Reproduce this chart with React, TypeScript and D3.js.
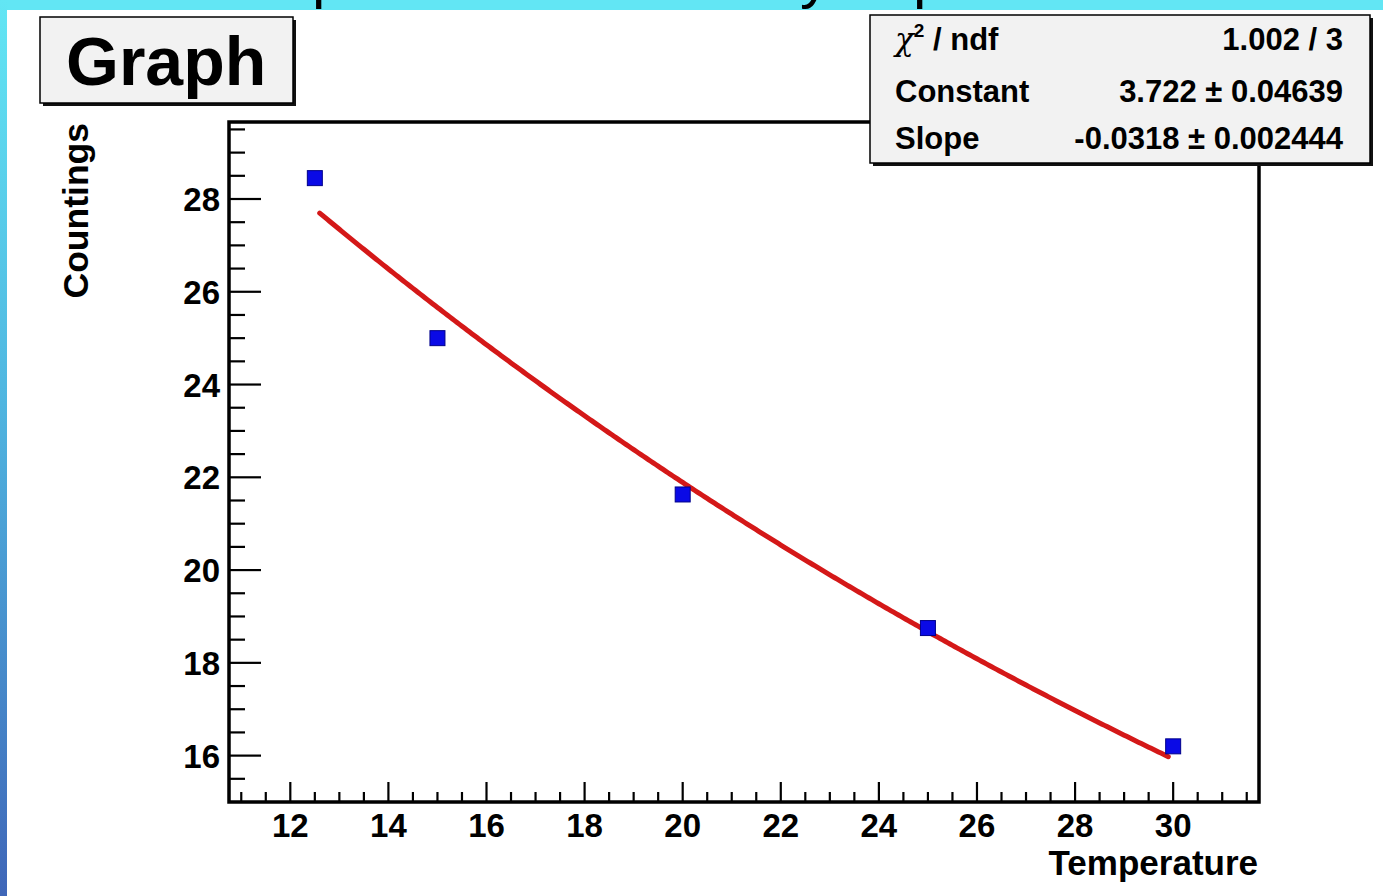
import React, { useEffect } from 'react';
import * as d3 from 'd3';

// Measured points
const temperatures = [12.5, 15, 20, 25, 30];
const countings = [28.45, 25.0, 21.63, 18.75, 16.2];

// Exponential fit: exp(constant + slope * x)
const fitConstant = 3.722;
const fitSlope = -0.0318;
const fitRange = [12.6, 29.9];

const xMajorTicks = [12, 14, 16, 18, 20, 22, 24, 26, 28, 30];
const yMajorTicks = [16, 18, 20, 22, 24, 26, 28];

const statsNames = ['Constant', 'Slope'];
const statsValues = ['3.722 \u00b1 0.04639', '-0.0318 \u00b1 0.002444'];
const chi2Value = '1.002 / 3';

const FONT = '"Liberation Sans", Arial, Helvetica, sans-serif';

export default function App() {
  useEffect(() => {
    document.body.style.margin = '0';
    document.body.style.overflow = 'hidden';
  }, []);

  const W = 1383;
  const H = 896;
  const frame = { left: 229, right: 1259, top: 122, bottom: 802 };

  const x = d3.scaleLinear().domain([10.75, 31.75]).range([frame.left, frame.right]);
  const y = d3.scaleLinear().domain([15.0, 29.66]).range([frame.bottom, frame.top]);

  const xMinor = d3.range(11, 31.75, 0.5).filter((v) => !xMajorTicks.includes(v));
  const yMinor = d3.range(15.5, 29.66, 0.5).filter((v) => !yMajorTicks.includes(v));

  const fitPts = d3
    .range(fitRange[0], fitRange[1] + 1e-9, 0.05)
    .map((t) => [t, Math.exp(fitConstant + fitSlope * t)] as [number, number]);
  const fitLine = d3
    .line<[number, number]>()
    .x((d) => x(d[0]))
    .y((d) => y(d[1]));

  const titleBox = { x: 40, y: 17, w: 253, h: 86 };
  const statsBox = { x: 870, y: 15, w: 500, h: 148 };

  return (
    <svg width={W} height={H} style={{ position: 'absolute', left: 0, top: 0, display: 'block' }}>
      <defs>
        <linearGradient id="edgeGrad" x1="0" y1="0" x2="0" y2="1">
          <stop offset="0" stopColor="#62e6f4" />
          <stop offset="0.45" stopColor="#4fb5e0" />
          <stop offset="1" stopColor="#3f66b8" />
        </linearGradient>
        <clipPath id="bandClip">
          <rect x={0} y={0} width={W} height={12} />
        </clipPath>
      </defs>

      <rect x={0} y={0} width={W} height={H} fill="#ffffff" />
      <rect x={0} y={0} width={W} height={10} fill="#62e6f4" />
      <rect x={0} y={0} width={7} height={H} fill="url(#edgeGrad)" />

      {/* slide heading, only its descenders reach below the top edge */}
      <g clipPath="url(#bandClip)" fontFamily={FONT} fontSize={60} fill="#000">
        <text x={312} y={-3}>p</text>
        <text x={800} y={-3}>y</text>
        <text x={913} y={-3}>p</text>
      </g>

      {/* axis ticks */}
      <g stroke="#000" strokeWidth={2.2}>
        {yMajorTicks.map((v) => (
          <line key={'ym' + v} x1={frame.left} x2={frame.left + 32} y1={y(v)} y2={y(v)} />
        ))}
        {yMinor.map((v) => (
          <line key={'yn' + v} x1={frame.left} x2={frame.left + 16} y1={y(v)} y2={y(v)} />
        ))}
        {xMajorTicks.map((v) => (
          <line key={'xm' + v} x1={x(v)} x2={x(v)} y1={frame.bottom} y2={frame.bottom - 20} />
        ))}
        {xMinor.map((v) => (
          <line key={'xn' + v} x1={x(v)} x2={x(v)} y1={frame.bottom} y2={frame.bottom - 10} />
        ))}
      </g>

      {/* frame */}
      <rect
        x={frame.left}
        y={frame.top}
        width={frame.right - frame.left}
        height={frame.bottom - frame.top}
        fill="none"
        stroke="#000"
        strokeWidth={3.5}
      />

      {/* tick labels */}
      <g fontFamily={FONT} fontWeight="bold" fontSize={33} fill="#000">
        {yMajorTicks.map((v) => (
          <text key={'yl' + v} x={220} y={y(v) + 12} textAnchor="end">
            {v}
          </text>
        ))}
        {xMajorTicks.map((v) => (
          <text key={'xl' + v} x={x(v)} y={837} textAnchor="middle">
            {v}
          </text>
        ))}
      </g>

      {/* axis titles */}
      <text
        fontFamily={FONT}
        fontWeight="bold"
        fontSize={35.5}
        textAnchor="end"
        transform={`translate(88, 123) rotate(-90)`}
      >
        Countings
      </text>
      <text x={1258} y={875} fontFamily={FONT} fontWeight="bold" fontSize={35} textAnchor="end">
        Temperature
      </text>

      {/* fit curve */}
      <path d={fitLine(fitPts) || ''} fill="none" stroke="#d41818" strokeWidth={5} strokeLinecap="round" />

      {/* data markers */}
      {temperatures.map((t, i) => (
        <rect
          key={'pt' + i}
          x={x(t) - 7.5}
          y={y(countings[i]) - 7.5}
          width={15}
          height={15}
          fill="#0a0ae6"
          stroke="#00008a"
          strokeWidth={1}
        />
      ))}

      {/* title box */}
      <rect x={titleBox.x + 3} y={titleBox.y + 3} width={titleBox.w} height={titleBox.h} fill="#111" />
      <rect
        x={titleBox.x}
        y={titleBox.y}
        width={titleBox.w}
        height={titleBox.h}
        fill="#f2f2f2"
        stroke="#000"
        strokeWidth={1.5}
      />
      <text x={66} y={85} fontFamily={FONT} fontWeight="bold" fontSize={68} fill="#000">
        Graph
      </text>

      {/* fit statistics box */}
      <rect x={statsBox.x + 3} y={statsBox.y + 3} width={statsBox.w} height={statsBox.h} fill="#111" />
      <rect
        x={statsBox.x}
        y={statsBox.y}
        width={statsBox.w}
        height={statsBox.h}
        fill="#f2f2f2"
        stroke="#000"
        strokeWidth={1.5}
      />
      <g fontFamily={FONT} fontWeight="bold" fontSize={31} fill="#000">
        <text x={895} y={50}>
          <tspan fontFamily='"DejaVu Serif", serif' fontStyle="italic" fontWeight="normal">
            {'\u03c7'}
          </tspan>
          <tspan fontSize={19} dy={-13}>
            2
          </tspan>
          <tspan dy={13}>{' / ndf'}</tspan>
        </text>
        <text x={1343} y={50} textAnchor="end">
          {chi2Value}
        </text>
        {statsNames.map((n, i) => (
          <text key={'sn' + n} x={895} y={102 + i * 47}>
            {n}
          </text>
        ))}
        {statsValues.map((v, i) => (
          <text key={'sv' + i} x={1343} y={102 + i * 47} textAnchor="end">
            {v}
          </text>
        ))}
      </g>
    </svg>
  );
}
